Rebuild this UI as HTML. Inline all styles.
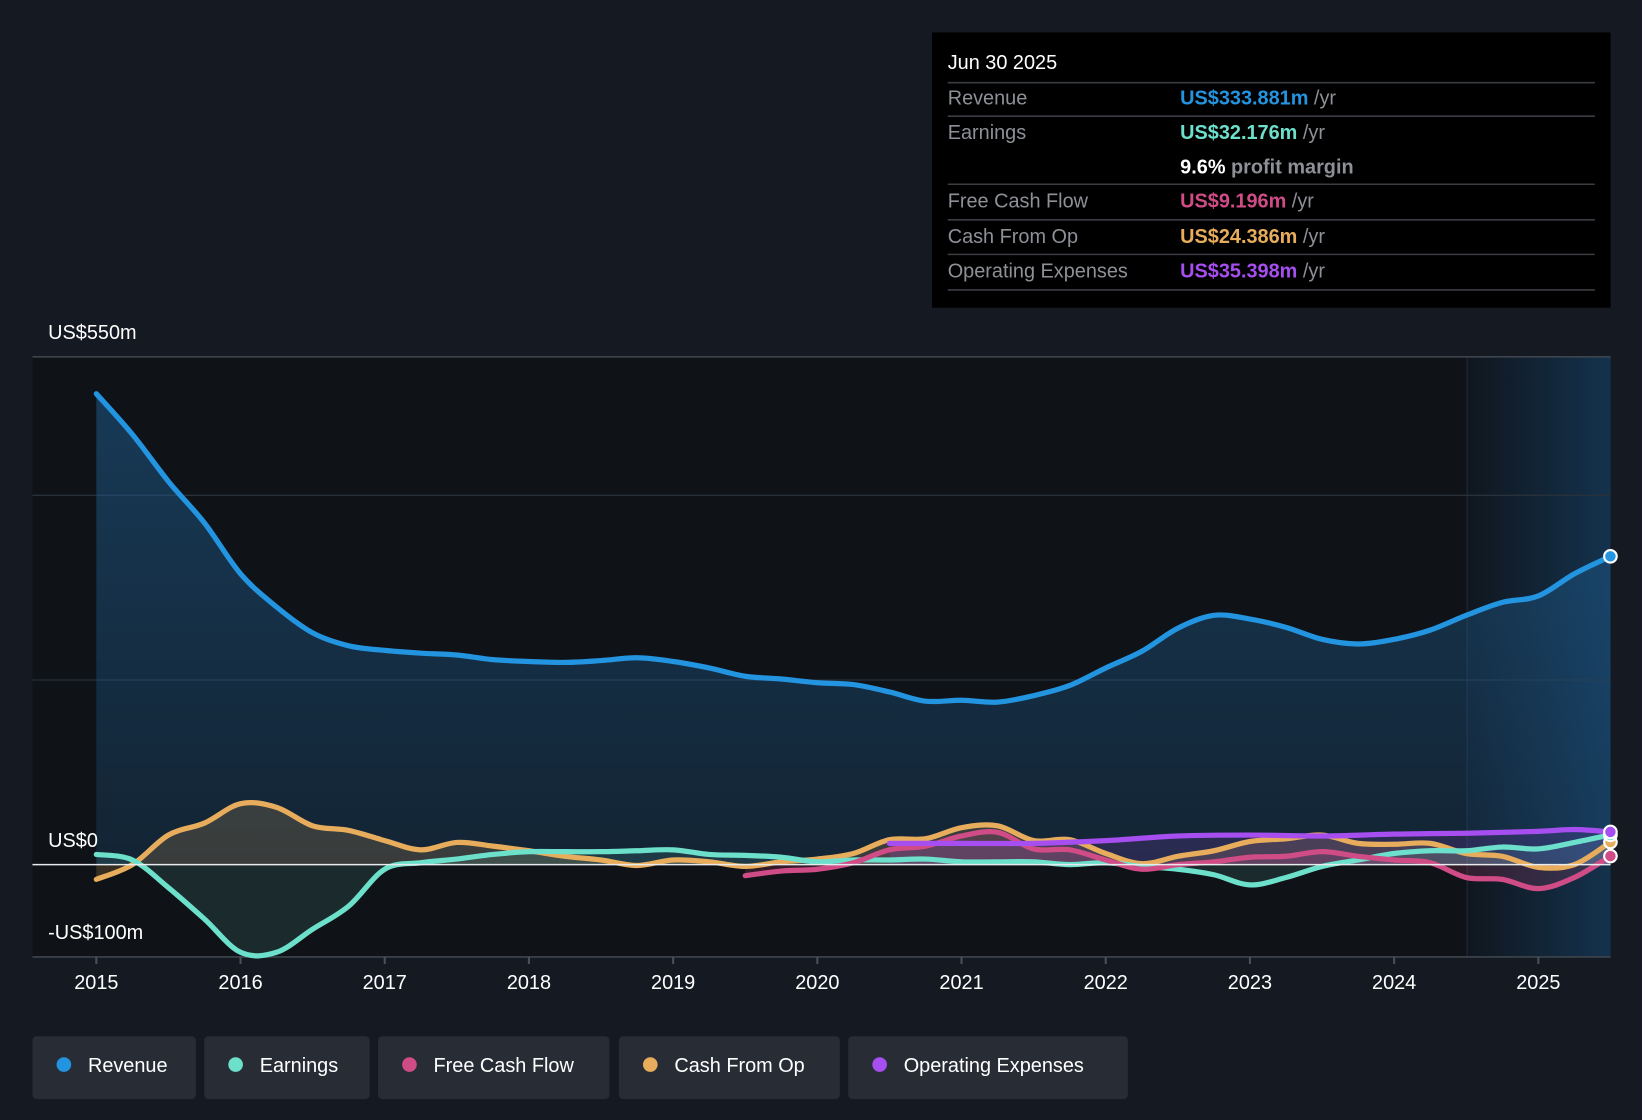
<!DOCTYPE html>
<html><head><meta charset="utf-8"><style>
html,body{margin:0;padding:0;background:#151a22;}
svg{display:block;font-family:"Liberation Sans",sans-serif;}
</style></head><body>
<svg id="chart" width="1642" height="1120" viewBox="0 0 1568 1070" preserveAspectRatio="none" xmlns="http://www.w3.org/2000/svg">
<defs>
<linearGradient id="fcgrad" x1="0" x2="1" y1="0" y2="0"><stop offset="0" stop-color="#10161e"/><stop offset="1" stop-color="#14324d"/></linearGradient>
<linearGradient id="revgrad" x1="0" x2="0" y1="0" y2="1"><stop offset="0" stop-color="#1e5a8a" stop-opacity="0.55"/><stop offset="1" stop-color="#1e5a8a" stop-opacity="0.25"/></linearGradient>
</defs>
<rect width="1568" height="1070" fill="#151a22"/>
<rect x="31" y="341" width="1370" height="573" fill="#0f1217"/>
<rect x="1401" y="341" width="137" height="573" fill="url(#fcgrad)"/>
<line x1="1401" y1="341" x2="1401" y2="914" stroke="#1f2c3a" stroke-width="1"/>
<g id="grid"></g>
<g id="areas"></g>
<g id="lines"></g>
<g id="xaxis"></g>
<g id="ylabels"></g>

<g>
<rect x="890" y="31" width="648" height="263" fill="#000"/>
<text x="905" y="66" fill="#fff" font-size="19">Jun 30 2025</text>
<g stroke="#3a3d42" stroke-width="1.5">
<line x1="905" y1="79" x2="1523" y2="79"/><line x1="905" y1="111" x2="1523" y2="111"/>
<line x1="905" y1="176" x2="1523" y2="176"/><line x1="905" y1="210" x2="1523" y2="210"/>
<line x1="905" y1="243" x2="1523" y2="243"/><line x1="905" y1="277" x2="1523" y2="277"/>
</g>
<g font-size="19" fill="#8d9096">
<text x="905" y="100">Revenue</text><text x="905" y="133">Earnings</text>
<text x="905" y="198">Free Cash Flow</text><text x="905" y="232">Cash From Op</text>
<text x="905" y="265">Operating Expenses</text>
</g>
<g font-size="19" font-weight="bold">
<text x="1127" y="100"><tspan fill="#2394e0">US$333.881m</tspan><tspan fill="#8d9096" font-weight="normal"> /yr</tspan></text>
<text x="1127" y="133"><tspan fill="#6de0cc">US$32.176m</tspan><tspan fill="#8d9096" font-weight="normal"> /yr</tspan></text>
<text x="1127" y="166"><tspan fill="#fff">9.6%</tspan><tspan fill="#8d9096"> profit margin</tspan></text>
<text x="1127" y="198"><tspan fill="#d04c86">US$9.196m</tspan><tspan fill="#8d9096" font-weight="normal"> /yr</tspan></text>
<text x="1127" y="232"><tspan fill="#e8ad5c">US$24.386m</tspan><tspan fill="#8d9096" font-weight="normal"> /yr</tspan></text>
<text x="1127" y="265"><tspan fill="#a64ef0">US$35.398m</tspan><tspan fill="#8d9096" font-weight="normal"> /yr</tspan></text>
</g>
</g>

<g font-size="19" fill="#fff">
<g><rect x="31" y="990" width="156" height="60" rx="4" fill="#272c35"/><circle cx="61" cy="1017" r="7" fill="#2394e0"/><text x="84" y="1024" fill="#fff">Revenue</text></g>
<g><rect x="195" y="990" width="158" height="60" rx="4" fill="#272c35"/><circle cx="225" cy="1017" r="7" fill="#6de0cc"/><text x="248" y="1024" fill="#fff">Earnings</text></g>
<g><rect x="361" y="990" width="221" height="60" rx="4" fill="#272c35"/><circle cx="391" cy="1017" r="7" fill="#d04c86"/><text x="414" y="1024" fill="#fff">Free Cash Flow</text></g>
<g><rect x="591" y="990" width="211" height="60" rx="4" fill="#272c35"/><circle cx="621" cy="1017" r="7" fill="#e8ad5c"/><text x="644" y="1024" fill="#fff">Cash From Op</text></g>
<g><rect x="810" y="990" width="267" height="60" rx="4" fill="#272c35"/><circle cx="840" cy="1017" r="7" fill="#a64ef0"/><text x="863" y="1024" fill="#fff">Operating Expenses</text></g>
</g>
</svg>
<script>
const revenueT = [2015,2015.25,2015.5,2015.75,2016,2016.25,2016.5,2016.75,2017,2017.25,2017.5,2017.75,2018,2018.25,2018.5,2018.75,2019,2019.25,2019.5,2019.75,2020,2020.25,2020.5,2020.75,2021,2021.25,2021.5,2021.75,2022,2022.25,2022.5,2022.75,2023,2023.25,2023.5,2023.75,2024,2024.25,2024.5,2024.75,2025,2025.25,2025.5];
const revenue = [510,466,415,370,315,279,251,237,232,229,227,222,220,219,221,224,220,213,204,201,197,195,187,177,178,176,183,194,213,231,256,270,266,257,244,239,244,254,270,284,291,315,333.9];
const earnings = [11,5,-25,-59,-95,-95,-70,-45,-5,2,6,11,14,14,14,15,16,11,10,8,3,5,5,6,3,3,3,0,2,-2,-5,-11,-22,-14,-2,5,12,15,15,19,17,24,32.2];
const cashFromOp = [-16,0,32,45,66,62,42,37,26,16,24,20,15,9,5,-1,5,3,-2,3,6,12,27,28,40,42,26,27,12,1,9,15,25,28,32,23,22,23,12,9,-3,0,24.4];
const fcfT = [2019.5,2019.75,2020,2020.25,2020.5,2020.75,2021,2021.25,2021.5,2021.75,2022,2022.25,2022.5,2022.75,2023,2023.25,2023.5,2023.75,2024,2024.25,2024.5,2024.75,2025,2025.25,2025.5];
const freeCashFlow = [-12,-7,-5,2,16,20,31,35,17,16,5,-5,0,3,8,9,14,9,5,2,-14,-16,-26,-14,9.2];
const opexT = [2020.5,2021,2021.5,2022,2022.5,2023,2023.5,2024,2024.5,2025,2025.25,2025.5];
const opex = [23,23,23,26,31,32,31,33,34,36,38,35.4];
const yearTicks = [2015,2016,2017,2018,2019,2020,2021,2022,2023,2024,2025];
const gridValues = [400,200];
const yLabels = [{v:550,t:"US$550m"},{v:0,t:"US$0"},{v:-100,t:"-US$100m"}];

const NS="http://www.w3.org/2000/svg";
const X = t => 92 + (t-2015)*137.7;
const Y = v => 826 - v*0.882;
function mk(tag, attrs, parent){const e=document.createElementNS(NS,tag);for(const k in attrs)e.setAttribute(k,attrs[k]);parent.appendChild(e);return e;}
function smooth(pts){let d=`M${pts[0][0]},${pts[0][1]}`;for(let i=0;i<pts.length-1;i++){const p0=pts[Math.max(0,i-1)],p1=pts[i],p2=pts[i+1],p3=pts[Math.min(pts.length-1,i+2)];const c1x=p1[0]+(p2[0]-p0[0])/6,c1y=p1[1]+(p2[1]-p0[1])/6,c2x=p2[0]-(p3[0]-p1[0])/6,c2y=p2[1]-(p3[1]-p1[1])/6;d+=` C${c1x},${c1y} ${c2x},${c2y} ${p2[0]},${p2[1]}`;}return d;}

const grid=document.getElementById('grid');
gridValues.forEach(v=>{const l=mk('line',{x1:31,x2:1538,y1:Y(v),y2:Y(v),stroke:'#283039','stroke-width':1.2},grid);

});
const tl=mk('line',{x1:31,x2:1538,y1:Y(550),y2:Y(550),stroke:'#3d444d','stroke-width':1.5},grid);


const bl=mk('line',{x1:31,x2:1538,y1:Y(-100),y2:Y(-100),stroke:'#3d444d','stroke-width':1.5},grid);



const series=[
 {name:'revenue',t:revenueT,v:revenue,c:'#2394e0',fill:'url(#revgrad)',fo:1},
 {name:'cash-from-op',t:revenueT,v:cashFromOp,c:'#e8ad5c',fill:'#e8ad5c',fo:0.18},
 {name:'earnings',t:revenueT,v:earnings,c:'#6de0cc',fill:'#6de0cc',fo:0.12},
 {name:'free-cash-flow',t:fcfT,v:freeCashFlow,c:'#d04c86',fill:'#d04c86',fo:0.18},
 {name:'operating-expenses',t:opexT,v:opex,c:'#a64ef0',fill:'#a64ef0',fo:0.15}
];
const areas=document.getElementById('areas'),lines=document.getElementById('lines');
series.forEach(s=>{
 const pts=s.t.map((t,i)=>[X(t),Y(s.v[i])]);
 const d=smooth(pts);
 const a=mk('path',{d:d+` L${pts[pts.length-1][0]},${Y(0)} L${pts[0][0]},${Y(0)} Z`,fill:s.fill,'fill-opacity':s.fo},areas);
 
 
 const l=mk('path',{d:d,fill:'none',stroke:s.c,'stroke-width':5,'stroke-linejoin':'round','stroke-linecap':'round'},lines);
 
 
 s.end=pts[pts.length-1];
});
const zl=mk('line',{x1:31,x2:1538,y1:Y(0),y2:Y(0),stroke:'#e8eaed','stroke-width':1.5},lines);


series.forEach(s=>{const c=mk('circle',{cx:s.end[0],cy:s.end[1],r:6,fill:s.c,stroke:'#fff','stroke-width':2},lines);

});

const xa=document.getElementById('xaxis');
yearTicks.forEach(yr=>{mk('line',{x1:X(yr),x2:X(yr),y1:914,y2:921,stroke:'#4a5058','stroke-width':2},xa);
const t=mk('text',{x:X(yr),y:945,'text-anchor':'middle',fill:'#fff','font-size':19},xa);t.textContent=yr;

});
const ya=document.getElementById('ylabels');
yLabels.forEach(o=>{const t=mk('text',{x:46,y:Y(o.v)-17,fill:'#fff','font-size':19},ya);t.textContent=o.t;

});
</script>
</body></html>
